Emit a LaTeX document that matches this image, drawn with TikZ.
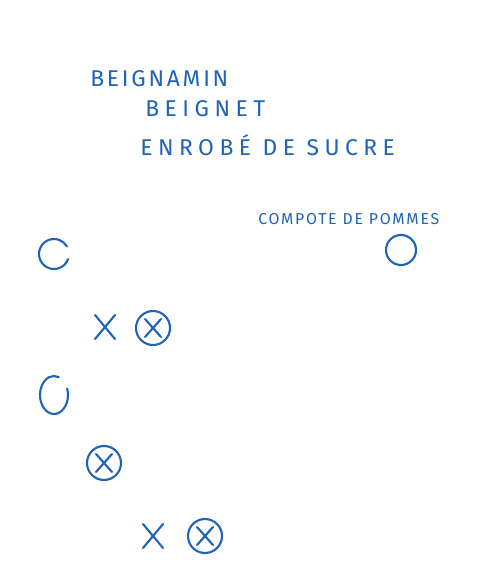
\documentclass[tikz,border=0pt]{standalone}
\usepackage{fontspec}
\setmainfont{Fira Sans}
\usepackage{tikz}
\definecolor{crayon}{HTML}{1E63B8}

\begin{document}
\begin{tikzpicture}[
  x=0.02cm, y=-0.02cm,
  pencil/.style={draw=crayon,line width=1.2pt,line cap=round},
  scrawl/.style={anchor=west,inner sep=0pt,text=crayon,font=\fontsize{13}{13}\selectfont\addfontfeatures{LetterSpace=12}},
  scrawlwide/.style={scrawl,font=\fontsize{13}{13}\selectfont\addfontfeatures{LetterSpace=24}},
  scrawlsmall/.style={scrawl,font=\fontsize{9}{9}\selectfont\addfontfeatures{LetterSpace=11}}
]

\def\crossmark#1;{
  \draw[pencil] #1 ++(-10,-12) -- ++(20,24);
  \draw[pencil] #1 ++(-10,12) -- ++(20,-24);
}
\def\ringcross#1;{
  \draw[pencil] #1 circle (17);
  \draw[pencil] #1 ++(-8,-9) -- ++(16,18);
  \draw[pencil] #1 ++(-8,9) -- ++(16,-18);
}

\useasboundingbox (0,0) rectangle (480,577);

\node[scrawl] (beignamin) at (90,79) {BEIGNAMIN};
\node[scrawlwide] (beignet) at (145,109) {BEIGNET};
\node[scrawlwide] (sucre) at (140,145) {ENROBÉ DE SUCRE};
\node[scrawlsmall] (compote) at (258,219) {COMPOTE DE POMMES};

% open circles
\draw[pencil] (54,254) ++(20:15) arc[start angle=20,end angle=330,radius=15];
\draw[pencil] (401,250) circle (15);
\draw[pencil] (54,395) ++(-20:14 and 19) arc[start angle=-20,end angle=290,x radius=14,y radius=19];

% crosses
\crossmark (105,327);
\ringcross (153,328);
\ringcross (104,463);
\crossmark (153,536);
\ringcross (205,536);

\end{tikzpicture}
\end{document}
